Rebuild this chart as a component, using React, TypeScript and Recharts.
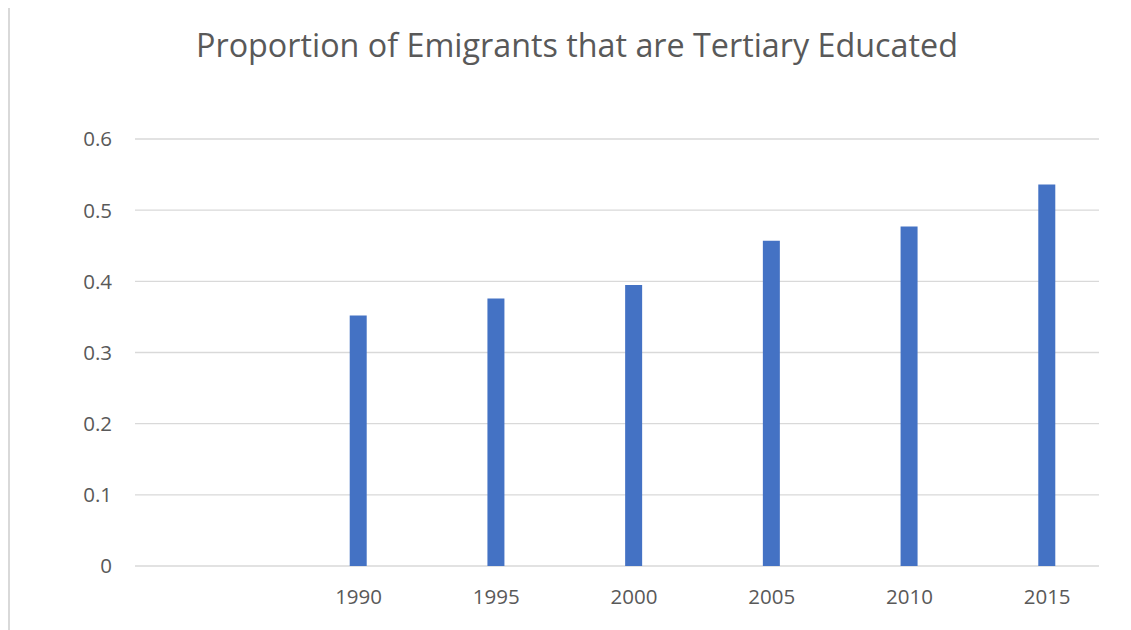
import { Bar, BarChart, CartesianGrid, XAxis, YAxis } from "recharts"

const years = ["", "1990", "1995", "2000", "2005", "2010", "2015"]
const tertiaryShare = [null, 0.352, 0.376, 0.395, 0.457, 0.477, 0.536]
const yTicks = [0, 0.1, 0.2, 0.3, 0.4, 0.5, 0.6]

const data = years.map((year, i) => ({ year, share: tertiaryShare[i] }))

const FONT = "'Open Sans', sans-serif"
const GREY = "#595959"

// excel put the real series in the third slot, so the bar and its label sit right of centre
const XTick = ({ x, y, payload }: any) => (
  <text x={x + 17} y={y + 38} textAnchor="middle" fill={GREY} fontSize={20.5} fontFamily={FONT}>
    {payload.value}
  </text>
)

const YTick = ({ x, y, payload }: any) => (
  <text x={x - 23} y={y} dy="0.36em" textAnchor="end" fill={GREY} fontSize={20.5} fontFamily={FONT}>
    {payload.value}
  </text>
)

export default function App() {
  return (
    <div style={{ position: "relative", width: 1131, height: 630, margin: "-8px 0 0 -8px", background: "#fff" }}>
      <div
        style={{
          position: "absolute",
          left: 8,
          top: 5,
          right: 0,
          bottom: 0,
          borderTop: "2px solid #d9d9d9",
          borderLeft: "2px solid #d9d9d9",
        }}
      />
      <div
        style={{
          position: "absolute",
          left: 0,
          width: 1154,
          top: 28,
          textAlign: "center",
          fontFamily: FONT,
          fontSize: 32.3,
          lineHeight: 1,
          color: GREY,
        }}
      >
        Proportion of Emigrants that are Tertiary Educated
      </div>
      <div style={{ position: "absolute", left: 0, top: 0 }}>
        <BarChart
          width={1131}
          height={630}
          data={data}
          barSize={17}
          barGap={0}
          margin={{ top: 139, right: 32, bottom: 34, left: 75 }}
        >
          <CartesianGrid vertical={false} stroke="#d9d9d9" strokeWidth={1.3} />
          <XAxis
            dataKey="year"
            height={30}
            axisLine={false}
            tickLine={false}
            tickSize={0}
            tickMargin={0}
            interval={0}
            tick={<XTick />}
          />
          <YAxis
            width={60}
            domain={[0, 0.6]}
            ticks={yTicks}
            axisLine={false}
            tickLine={false}
            tickSize={0}
            tickMargin={0}
            tick={<YTick />}
          />
          <Bar dataKey="gapA" isAnimationActive={false} legendType="none" />
          <Bar dataKey="gapB" isAnimationActive={false} legendType="none" />
          <Bar dataKey="share" fill="#4472C4" isAnimationActive={false} />
        </BarChart>
      </div>
    </div>
  )
}
